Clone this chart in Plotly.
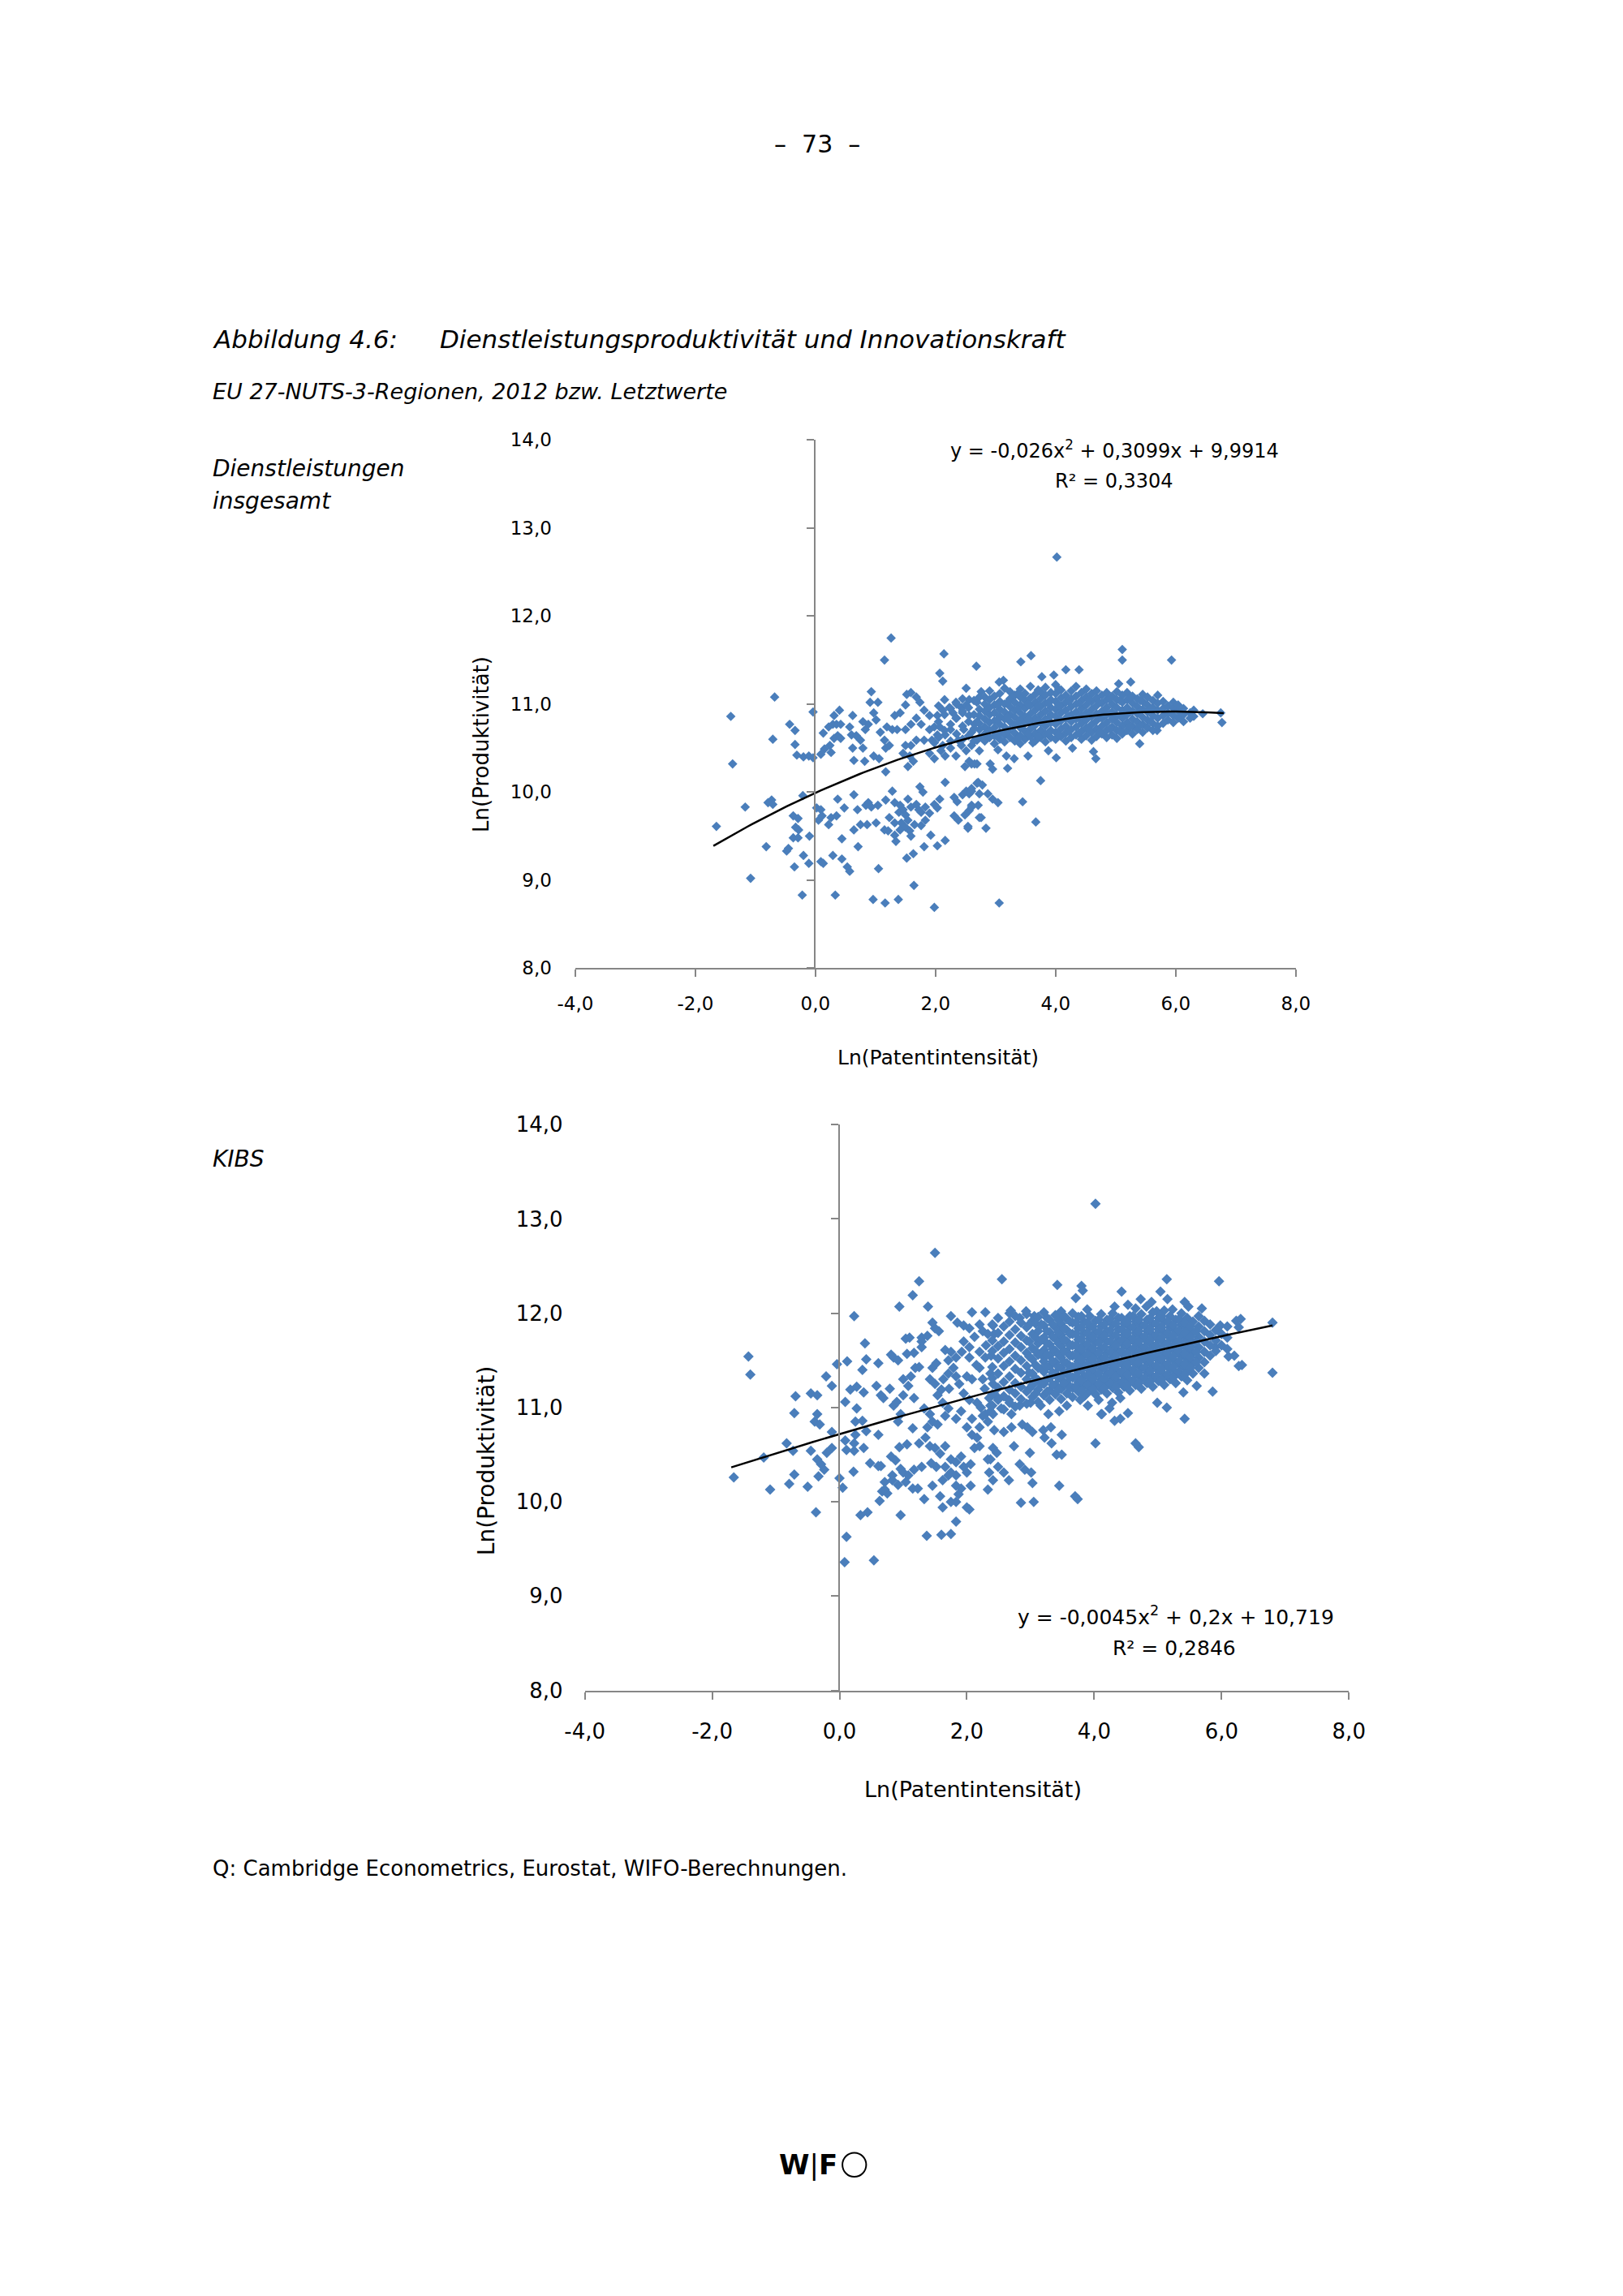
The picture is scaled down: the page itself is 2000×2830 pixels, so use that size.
import numpy as np
import plotly.graph_objects as go

# ---------------- data ----------------
# upper chart: Dienstleistungen insgesamt
top_sparse = [
    (-1.65, 9.61), (-1.41, 10.86), (-1.38, 10.32), (-1.17, 9.83), (-1.08, 9.02), (-0.82, 9.38),
    (-0.79, 9.88), (-0.73, 9.91), (-0.71, 9.86), (-0.71, 10.60), (-0.68, 11.08), (-0.48, 9.33),
    (-0.45, 9.36), (-0.43, 10.77), (-0.37, 9.73), (-0.37, 9.48), (-0.35, 9.15), (-0.34, 10.70),
    (-0.34, 10.54), (-0.33, 9.60), (-0.31, 10.42), (-0.29, 9.70), (-0.29, 9.48), (-0.28, 9.57),
    (-0.22, 8.83), (-0.21, 9.96), (-0.20, 10.40), (-0.20, 9.28), (-0.11, 10.41), (-0.11, 9.19),
    (-0.10, 9.50), (-0.04, 10.39), (-0.04, 10.91),
    (0.02, 9.82), (0.05, 9.68), (0.09, 9.80), (0.09, 9.21), (0.11, 9.73), (0.13, 9.19), (0.22, 9.63),
    (0.26, 9.71), (0.29, 9.28), (0.33, 8.83), (0.35, 9.73), (0.37, 9.92), (0.44, 9.24), (0.44, 9.47),
    (0.48, 9.82), (0.53, 9.15), (0.57, 9.10), (0.64, 9.97), (0.64, 9.57), (0.70, 9.80), (0.71, 9.38),
    (0.75, 9.63), (0.84, 9.85), (0.86, 9.63), (0.88, 9.88), (0.93, 9.83), (0.96, 8.78), (1.01, 9.65),
    (1.04, 9.85), (1.05, 9.13), (1.15, 9.57), (1.16, 8.74), (1.17, 9.91), (1.17, 10.23), (1.21, 9.56),
    (1.23, 9.71), (1.28, 10.01), (1.32, 9.88), (1.32, 9.65), (1.32, 9.51), (1.34, 9.44), (1.38, 8.78),
    (1.39, 9.77), (1.41, 9.85), (1.41, 9.57), (1.43, 9.65), (1.46, 9.80), (1.50, 9.74), (1.50, 9.60),
    (1.52, 9.25), (1.54, 9.68), (1.54, 9.92), (1.57, 9.56), (1.59, 9.83), (1.59, 9.50), (1.63, 9.30),
    (1.64, 8.94), (1.65, 9.63), (1.68, 9.86), (1.72, 9.80), (1.74, 10.06), (1.76, 9.77), (1.76, 9.62),
    (1.79, 10.00), (1.81, 9.38), (1.83, 9.83), (1.83, 9.68), (1.90, 9.76), (1.92, 9.51), (1.98, 9.86),
    (1.98, 8.69), (2.03, 9.82), (2.03, 9.39), (2.07, 9.92), (2.16, 9.45), (2.16, 10.11), (2.31, 9.94),
    (2.31, 9.73), (2.36, 9.89), (2.38, 9.68), (2.45, 9.97), (2.49, 9.74), (2.51, 10.01), (2.54, 9.61),
    (2.56, 9.98), (2.56, 9.79), (2.60, 10.04), (2.60, 9.85), (2.69, 10.10), (2.71, 9.85), (2.73, 9.98),
    (2.73, 9.71), (2.60, 10.32), (2.69, 10.32), (2.91, 10.32), (2.95, 10.26), (3.20, 10.27),
    (2.71, 10.11), (2.78, 10.08), (2.60, 10.01), (2.87, 9.98), (2.95, 9.92), (3.04, 9.88), (2.60, 9.83),
    (2.76, 9.71), (2.84, 9.59), (2.54, 9.59), (3.45, 9.89), (3.67, 9.66), (3.75, 10.13), (3.06, 8.74),
    (3.04, 10.48), (3.18, 10.41), (3.31, 10.38), (3.54, 10.41), (3.62, 10.56), (3.88, 10.47),
    (4.01, 10.39), (4.28, 10.50), (4.63, 10.46), (4.67, 10.38), (5.40, 10.55), (5.69, 10.70),
]
top_high = [
    (1.26, 11.75), (1.15, 11.50), (2.14, 11.57), (2.68, 11.43), (2.07, 11.35), (2.12, 11.26),
    (2.51, 11.18), (4.02, 12.67), (5.11, 11.62), (5.11, 11.50), (5.93, 11.50), (3.59, 11.55),
    (3.42, 11.48), (4.17, 11.39), (4.39, 11.39), (3.77, 11.31), (3.97, 11.33), (3.06, 11.25),
    (3.13, 11.27), (5.25, 11.25), (5.05, 11.23), (6.77, 10.79), (6.75, 10.90), (6.24, 10.90),
    (6.24, 10.84), (6.08, 10.85),
]
top_band = [
    (0.13, 10.67), (0.22, 10.74), (0.29, 10.77), (0.35, 10.77), (0.42, 10.77), (0.40, 10.93),
    (0.31, 10.87), (0.37, 10.64), (0.31, 10.61), (0.42, 10.61), (0.24, 10.53), (0.15, 10.49),
    (0.09, 10.43), (0.26, 10.45), (0.62, 10.87), (0.57, 10.74), (0.60, 10.65), (0.68, 10.64),
    (0.62, 10.50), (0.64, 10.36), (0.82, 10.35), (0.79, 10.50), (0.75, 10.59), (0.83, 10.71),
    (0.88, 10.77), (0.79, 10.80), (0.93, 11.14), (0.91, 11.02), (1.04, 11.02), (0.97, 10.90),
    (1.01, 10.82), (0.97, 10.41), (1.06, 10.38), (1.17, 10.50), (1.23, 10.53), (1.15, 10.59),
    (1.08, 10.68), (1.19, 10.74), (1.28, 10.71), (1.36, 10.71), (1.32, 10.87), (1.41, 10.90),
    (1.50, 10.99), (1.52, 11.11), (1.59, 11.13), (1.68, 11.08), (1.74, 11.02), (1.81, 10.93),
    (1.90, 10.87), (1.50, 10.71), (1.59, 10.77), (1.68, 10.84), (1.76, 10.77), (1.90, 10.71),
    (1.98, 10.74), (2.03, 10.65), (1.94, 10.59), (1.81, 10.59), (1.68, 10.59), (1.59, 10.53),
    (1.50, 10.53), (1.46, 10.44), (1.57, 10.41), (1.63, 10.35), (1.54, 10.29),
    (1.90, 10.44), (1.98, 10.38), (2.09, 10.47), (2.16, 10.41), (2.25, 10.50), (2.34, 10.41),
    (2.43, 10.53), (2.51, 10.47), (2.60, 10.53), (2.69, 10.59), (2.73, 10.71), (2.65, 10.77),
    (2.56, 10.87), (2.45, 10.90), (2.34, 11.02), (2.23, 10.96), (2.12, 10.93), (2.03, 10.87),
    (2.34, 10.84), (2.47, 10.71), (2.60, 10.68), (2.25, 10.71), (2.16, 10.65), (2.43, 10.96),
    (2.56, 11.05), (2.69, 11.02), (2.73, 10.87), (2.56, 10.35), (2.49, 10.29), (2.65, 10.32),
    (2.07, 10.74), (2.38, 10.59), (2.12, 10.53), (2.73, 10.47), (1.98, 10.56), (2.76, 11.14),
    (2.51, 10.99), (2.29, 10.90), (2.69, 10.80),
]
# dense cloud: x position with the y values stacked there
top_core = [
    (2.05, [10.62, 10.80, 10.98]),
    (2.15, [10.70, 10.88, 11.05]),
    (2.25, [10.58, 10.77, 10.95]),
    (2.35, [10.66, 10.84, 11.00]),
    (2.45, [10.60, 10.75, 10.92, 11.06]),
    (2.55, [10.64, 10.80, 10.96]),
    (2.64, [10.58, 10.72, 10.88, 11.04]),
    (2.73, [10.62, 10.78, 10.94, 11.08]),
    (2.82, [10.58, 10.66, 10.74, 10.83, 10.92, 11.00, 11.08]),
    (2.90, [10.62, 10.70, 10.79, 10.88, 10.96, 11.05, 11.15]),
    (2.98, [10.55, 10.64, 10.73, 10.81, 10.90, 10.99, 11.09]),
    (3.07, [10.60, 10.68, 10.77, 10.86, 10.94, 11.03, 11.12]),
    (3.15, [10.57, 10.65, 10.74, 10.83, 10.91, 11.00, 11.18]),
    (3.24, [10.62, 10.71, 10.80, 10.88, 10.97, 11.06, 11.14]),
    (3.32, [10.58, 10.67, 10.76, 10.85, 10.93, 11.02, 11.10]),
    (3.41, [10.55, 10.64, 10.73, 10.82, 10.90, 10.99, 11.08, 11.17]),
    (3.49, [10.60, 10.69, 10.78, 10.86, 10.95, 11.04, 11.12]),
    (3.58, [10.63, 10.72, 10.81, 10.89, 10.98, 11.07, 11.20]),
    (3.66, [10.58, 10.67, 10.76, 10.84, 10.93, 11.02, 11.11]),
    (3.75, [10.62, 10.70, 10.79, 10.88, 10.97, 11.06, 11.14]),
    (3.83, [10.57, 10.66, 10.75, 10.83, 10.92, 11.01, 11.10, 11.19]),
    (3.92, [10.62, 10.70, 10.79, 10.88, 10.96, 11.05, 11.13]),
    (4.00, [10.60, 10.68, 10.77, 10.86, 10.94, 11.03, 11.12, 11.22]),
    (4.09, [10.63, 10.72, 10.81, 10.90, 10.98, 11.07, 11.16]),
    (4.17, [10.58, 10.67, 10.75, 10.84, 10.93, 11.02, 11.10]),
    (4.26, [10.62, 10.71, 10.80, 10.88, 10.97, 11.06, 11.15]),
    (4.34, [10.65, 10.74, 10.83, 10.91, 11.00, 11.09, 11.20]),
    (4.43, [10.60, 10.69, 10.78, 10.87, 10.95, 11.04, 11.13]),
    (4.51, [10.64, 10.73, 10.82, 10.90, 10.99, 11.08, 11.17]),
    (4.60, [10.59, 10.68, 10.77, 10.86, 10.94, 11.03, 11.12]),
    (4.68, [10.63, 10.72, 10.81, 10.89, 10.98, 11.07, 11.15]),
    (4.77, [10.66, 10.75, 10.84, 10.92, 11.01, 11.10]),
    (4.85, [10.62, 10.70, 10.79, 10.88, 10.96, 11.05, 11.13]),
    (4.94, [10.65, 10.74, 10.83, 10.91, 11.00, 11.09]),
    (5.02, [10.61, 10.70, 10.79, 10.87, 10.96, 11.05, 11.14]),
    (5.11, [10.66, 10.75, 10.84, 10.93, 11.02, 11.10]),
    (5.19, [10.70, 10.79, 10.88, 10.96, 11.05, 11.13]),
    (5.28, [10.66, 10.75, 10.83, 10.92, 11.01, 11.09]),
    (5.36, [10.71, 10.80, 10.89, 10.97, 11.06]),
    (5.45, [10.68, 10.77, 10.85, 10.94, 11.03, 11.11]),
    (5.53, [10.73, 10.82, 10.91, 10.99, 11.08]),
    (5.62, [10.70, 10.78, 10.87, 10.96, 11.04]),
    (5.70, [10.75, 10.84, 10.93, 11.01, 11.10]),
    (5.79, [10.78, 10.87, 10.95, 11.03]),
    (5.87, [10.82, 10.90, 10.98]),
    (5.96, [10.79, 10.87, 10.95, 11.02]),
    (6.04, [10.84, 10.92, 10.99]),
    (6.13, [10.80, 10.88, 10.95]),
    (6.30, [10.86, 10.93]),
    (6.45, [10.89]),
]
top_fill = [
    (3.03, [10.64, 10.82, 10.99]), (3.20, [10.69, 10.85, 11.02]),
    (3.37, [10.61, 10.78, 10.95, 11.12]), (3.54, [10.66, 10.83, 11.00]),
    (3.71, [10.63, 10.81, 10.98, 11.16]), (3.88, [10.67, 10.84, 11.01]),
    (4.05, [10.65, 10.82, 10.99, 11.17]), (4.22, [10.69, 10.86, 11.03]),
    (4.39, [10.67, 10.84, 11.01]), (4.56, [10.71, 10.88, 11.05]),
    (4.73, [10.68, 10.85, 11.02]), (4.90, [10.72, 10.89, 11.06]),
    (5.07, [10.70, 10.87, 11.04]), (5.24, [10.74, 10.91, 11.07]),
    (5.41, [10.76, 10.92, 11.04]), (5.58, [10.80, 10.95]),
]
top_fit = [-0.026, 0.3099, 9.9914]
top_fit_span = [-1.7, 6.8]

# lower chart: KIBS
kibs_sparse = [
    (1.50, 12.64), (1.25, 12.34), (1.15, 12.19), (0.94, 12.07), (1.39, 12.07), (0.23, 11.97),
    (1.75, 11.97), (-1.43, 11.54), (-1.40, 11.35), (0.40, 11.68), (-0.04, 11.46), (0.12, 11.49),
    (-0.21, 11.33), (-0.12, 11.23), (-0.69, 11.12), (-0.45, 11.15), (-0.35, 11.13), (-0.71, 10.94),
    (-0.35, 10.93), (-0.39, 10.85), (-0.31, 10.82), (-0.83, 10.62), (-0.73, 10.54), (-0.45, 10.54),
    (-1.19, 10.47), (-1.66, 10.26), (-1.09, 10.13), (-0.79, 10.19), (-0.71, 10.29), (-0.50, 10.16),
    (-0.37, 9.89), (-0.35, 10.45), (-0.29, 10.40), (-0.24, 10.34), (-0.33, 10.27), (-0.20, 10.52),
    (-0.12, 10.57), (-0.12, 10.74), (0.00, 10.25), (0.05, 10.15), (0.11, 9.63), (0.08, 9.36),
    (0.54, 9.38), (0.33, 9.86), (0.44, 9.89), (0.22, 10.32), (0.09, 10.65), (0.23, 10.62),
    (0.25, 10.71), (0.38, 10.57), (0.11, 10.55), (0.23, 10.54), (0.09, 11.06), (0.17, 11.19),
    (0.27, 10.99), (0.25, 10.85), (0.36, 10.86), (0.42, 10.75), (0.61, 10.71), (0.27, 11.22),
    (0.38, 11.16), (0.36, 11.40), (0.42, 11.51), (0.61, 11.47), (0.65, 11.13), (0.69, 11.10),
    (0.58, 11.23), (0.79, 11.20), (0.48, 10.41), (0.61, 10.38), (0.65, 10.38), (0.81, 10.48),
    (0.88, 10.44), (0.83, 10.28), (0.96, 10.35), (0.71, 10.21), (0.67, 10.11), (0.63, 10.01),
    (0.75, 10.09), (0.96, 9.86), (0.94, 10.58), (1.06, 10.61), (1.15, 10.78), (0.92, 10.85),
    (0.96, 10.93), (0.85, 11.02), (0.90, 11.06), (1.00, 11.13), (1.17, 11.10), (1.08, 11.23),
    (1.00, 11.30), (1.12, 11.33), (1.19, 11.42), (1.25, 11.43), (1.06, 11.57), (1.17, 11.58),
    (1.04, 11.73), (1.10, 11.74), (1.29, 11.74), (1.29, 11.64), (0.81, 11.56), (0.85, 11.53),
    (0.92, 11.50), (1.00, 10.31), (1.08, 10.28), (1.17, 10.34), (1.04, 10.21), (1.15, 10.14),
    (1.23, 10.14), (1.33, 10.03), (1.29, 10.37), (0.71, 10.13), (0.83, 10.23), (0.92, 10.18),
    (1.25, 10.62), (1.35, 10.68), (1.42, 10.59), (1.38, 10.79), (1.46, 10.85), (1.54, 10.82),
    (1.42, 10.93), (1.33, 10.99), (1.42, 11.30), (1.50, 11.25), (1.60, 11.19), (1.54, 11.13),
    (1.63, 11.30), (1.71, 11.36), (1.46, 11.42), (1.52, 11.47), (1.50, 11.84), (1.56, 11.81),
    (1.46, 11.90), (1.29, 11.70), (1.38, 11.76), (1.66, 11.61), (1.75, 11.59), (1.83, 11.53),
    (1.71, 11.50), (1.79, 11.42), (1.83, 11.33), (1.85, 11.90), (1.95, 11.87), (2.04, 11.84),
    (2.08, 12.01), (2.29, 12.01), (2.25, 11.81), (2.33, 11.78), (2.41, 11.87), (2.43, 11.78),
    (1.95, 11.70), (2.04, 11.64), (2.20, 11.59), (2.29, 11.53), (2.04, 11.53), (1.92, 11.59),
    (2.20, 11.42), (2.37, 11.36), (2.08, 11.30), (2.00, 11.33), (2.25, 11.30), (2.41, 11.25),
    (1.62, 11.05), (1.71, 10.99), (1.66, 10.91), (1.83, 10.88), (1.91, 10.96), (2.04, 11.08),
    (2.16, 11.05), (2.29, 10.93), (2.37, 11.02), (2.08, 10.88), (2.20, 10.79), (2.00, 10.79),
    (2.08, 10.71), (2.16, 10.68), (1.50, 10.57), (1.58, 10.51), (1.66, 10.59), (1.75, 10.45),
    (1.83, 10.42), (1.91, 10.48), (1.75, 10.31), (1.83, 10.28), (1.95, 10.37), (2.06, 10.40),
    (2.12, 10.57), (2.20, 10.59), (1.44, 10.41), (1.52, 10.37), (1.66, 10.37), (1.71, 10.28),
    (1.62, 10.23), (1.83, 10.17), (1.91, 10.14), (2.00, 10.31), (1.46, 10.17), (1.58, 10.06),
    (1.62, 9.94), (1.75, 10.00), (1.83, 10.00), (1.87, 10.08), (2.00, 9.94), (2.04, 9.92),
    (1.37, 9.64), (1.60, 9.65), (1.75, 9.66), (1.83, 9.79), (2.06, 10.17), (2.33, 10.13),
    (2.35, 10.31), (2.37, 10.45), (2.41, 10.57), (2.43, 10.76), (2.33, 10.85), (2.25, 10.91),
    (2.41, 10.93), (2.12, 11.75), (2.20, 11.88), (2.30, 11.66), (2.38, 11.55), (2.15, 11.45),
    (2.28, 11.20), (2.35, 11.10), (2.22, 11.00), (1.95, 11.15), (1.88, 11.25), (1.72, 11.20),
]
kibs_right = [
    (4.02, 13.16), (2.55, 12.36), (3.42, 12.30), (3.80, 12.29), (3.82, 12.24), (5.14, 12.36),
    (5.96, 12.34), (4.43, 12.23), (3.71, 12.16), (4.73, 12.15), (5.04, 12.23), (5.15, 12.15),
    (4.90, 12.12), (5.42, 12.12), (2.69, 12.03), (2.93, 12.02), (3.06, 11.97), (2.83, 11.95),
    (3.89, 12.04), (4.32, 12.07), (4.53, 12.09), (4.65, 12.05), (4.82, 12.07), (4.98, 12.02),
    (5.23, 12.04), (5.48, 12.07), (5.69, 12.05), (6.23, 11.92), (6.27, 11.85), (5.98, 11.87),
    (5.90, 11.64), (6.11, 11.54), (6.27, 11.44), (5.73, 11.36), (5.61, 11.23), (5.86, 11.17),
    (5.40, 11.16), (4.99, 11.05), (5.14, 11.00), (5.42, 10.88), (4.53, 10.94), (4.12, 10.93),
    (4.32, 10.86), (4.41, 10.88), (4.02, 10.62), (4.65, 10.62), (4.70, 10.58), (3.45, 10.17),
    (3.70, 10.06), (3.74, 10.03), (2.85, 9.99), (3.05, 10.00), (2.47, 10.52), (2.74, 10.59),
    (2.99, 10.52), (3.33, 10.62), (3.41, 10.50), (3.49, 10.50), (3.22, 10.68), (2.33, 10.45),
    (2.49, 10.37), (2.58, 10.31), (2.41, 10.23), (2.66, 10.23), (2.83, 10.40), (2.91, 10.34),
    (3.01, 10.31), (3.03, 10.20), (2.58, 10.74), (2.70, 10.79), (2.87, 10.82), (2.95, 10.79),
    (3.03, 10.74), (3.20, 10.76), (3.32, 10.79), (3.49, 10.71), (3.28, 10.93), (3.45, 10.96),
    (3.57, 11.02), (2.37, 10.96), (2.54, 10.99), (2.70, 10.93), (2.83, 11.02), (3.00, 11.05),
    (3.16, 11.02), (2.45, 11.13), (2.66, 11.08), (3.78, 11.08), (3.90, 11.02), (4.07, 11.08),
    (4.28, 11.05), (4.41, 11.10), (4.11, 10.93), (4.24, 10.99), (3.86, 11.13), (6.80, 11.90),
    (6.80, 11.37), (6.30, 11.94), (6.32, 11.45), (6.20, 11.55),
]
kibs_core = [
    (2.40, [11.02, 11.14, 11.31, 11.43, 11.60, 11.71, 11.88]),
    (2.49, [11.08, 11.21, 11.36, 11.52, 11.65, 11.79, 11.95]),
    (2.58, [10.98, 11.12, 11.27, 11.44, 11.58, 11.70, 11.86]),
    (2.67, [11.05, 11.19, 11.33, 11.49, 11.62, 11.77, 11.91, 12.00]),
    (2.76, [11.01, 11.15, 11.26, 11.41, 11.55, 11.69, 11.83, 11.97]),
    (2.85, [11.09, 11.22, 11.37, 11.50, 11.64, 11.76, 11.90]),
    (2.94, [11.04, 11.17, 11.30, 11.44, 11.58, 11.71, 11.85, 11.99]),
    (3.03, [11.11, 11.24, 11.36, 11.51, 11.63, 11.78, 11.92]),
    (3.12, [11.06, 11.19, 11.29, 11.42, 11.56, 11.68, 11.81, 11.96]),
    (3.21, [11.13, 11.25, 11.38, 11.49, 11.61, 11.74, 11.87, 12.01]),
    (3.30, [11.08, 11.18, 11.31, 11.44, 11.55, 11.67, 11.80, 11.93]),
    (3.39, [11.14, 11.24, 11.36, 11.48, 11.60, 11.73, 11.85, 11.98]),
    (3.48, [11.09, 11.20, 11.30, 11.42, 11.53, 11.65, 11.77, 11.89, 12.02]),
    (3.57, [11.15, 11.26, 11.37, 11.47, 11.59, 11.70, 11.82, 11.94]),
    (3.66, [11.11, 11.21, 11.32, 11.43, 11.55, 11.66, 11.78, 11.90, 12.00]),
    (3.75, [11.17, 11.27, 11.38, 11.49, 11.60, 11.72, 11.84, 11.96]),
    (3.84, [11.12, 11.23, 11.33, 11.45, 11.56, 11.67, 11.79, 11.91]),
    (3.93, [11.18, 11.28, 11.39, 11.50, 11.61, 11.73, 11.85, 11.97]),
    (4.02, [11.14, 11.24, 11.35, 11.46, 11.57, 11.69, 11.80, 11.92]),
    (4.11, [11.19, 11.30, 11.41, 11.52, 11.63, 11.74, 11.86, 11.99]),
    (4.20, [11.15, 11.26, 11.36, 11.47, 11.58, 11.70, 11.81, 11.93]),
    (4.29, [11.21, 11.31, 11.42, 11.53, 11.64, 11.76, 11.88, 12.00]),
    (4.38, [11.16, 11.27, 11.38, 11.49, 11.60, 11.71, 11.83, 11.95]),
    (4.47, [11.22, 11.33, 11.44, 11.55, 11.66, 11.77, 11.89]),
    (4.56, [11.18, 11.29, 11.40, 11.51, 11.62, 11.73, 11.85, 11.97]),
    (4.65, [11.24, 11.35, 11.46, 11.57, 11.68, 11.79, 11.91]),
    (4.74, [11.20, 11.31, 11.42, 11.53, 11.64, 11.75, 11.87, 11.99]),
    (4.83, [11.26, 11.37, 11.48, 11.59, 11.70, 11.81, 11.93]),
    (4.92, [11.22, 11.33, 11.44, 11.55, 11.66, 11.77, 11.89, 12.01]),
    (5.01, [11.28, 11.39, 11.50, 11.61, 11.72, 11.83, 11.95]),
    (5.10, [11.24, 11.35, 11.46, 11.57, 11.68, 11.79, 11.91, 12.03]),
    (5.19, [11.30, 11.41, 11.52, 11.63, 11.74, 11.85, 11.97]),
    (5.28, [11.26, 11.37, 11.48, 11.59, 11.70, 11.81, 11.93]),
    (5.37, [11.33, 11.44, 11.55, 11.66, 11.77, 11.88, 12.00]),
    (5.46, [11.29, 11.40, 11.51, 11.62, 11.73, 11.84, 11.95]),
    (5.55, [11.36, 11.47, 11.58, 11.69, 11.80, 11.91]),
    (5.64, [11.42, 11.53, 11.64, 11.75, 11.86, 11.97]),
    (5.73, [11.48, 11.59, 11.70, 11.81, 11.92]),
    (5.82, [11.55, 11.66, 11.77, 11.88]),
    (5.91, [11.60, 11.71, 11.82]),
    (6.00, [11.66, 11.78]),
    (6.09, [11.62, 11.74, 11.86]),
]
kibs_fill = [
    (2.98, [11.20, 11.37, 11.54, 11.70, 11.88]),
    (3.08, [11.15, 11.31, 11.45, 11.60, 11.74, 11.89]),
    (3.17, [11.25, 11.41, 11.56, 11.72, 11.88]),
    (3.26, [11.17, 11.30, 11.43, 11.56, 11.68, 11.81, 11.95]),
    (3.35, [11.24, 11.37, 11.49, 11.62, 11.75, 11.88]),
    (3.44, [11.19, 11.31, 11.43, 11.56, 11.68, 11.80, 11.93]),
    (3.53, [11.25, 11.36, 11.48, 11.60, 11.72, 11.84, 11.97]),
    (3.62, [11.21, 11.32, 11.44, 11.55, 11.66, 11.78, 11.91]),
    (3.71, [11.22, 11.33, 11.44, 11.55, 11.66, 11.78, 11.90]),
    (3.80, [11.18, 11.29, 11.40, 11.51, 11.62, 11.73, 11.85, 11.97]),
    (3.89, [11.24, 11.34, 11.45, 11.56, 11.67, 11.79, 11.90]),
    (3.98, [11.20, 11.30, 11.41, 11.52, 11.63, 11.75, 11.86]),
    (4.07, [11.25, 11.36, 11.47, 11.58, 11.69, 11.80, 11.93]),
    (4.16, [11.21, 11.31, 11.42, 11.53, 11.64, 11.76, 11.88]),
    (4.25, [11.26, 11.37, 11.48, 11.59, 11.70, 11.82, 11.94]),
    (4.34, [11.22, 11.33, 11.44, 11.55, 11.66, 11.77, 11.89]),
    (4.43, [11.27, 11.38, 11.49, 11.60, 11.71, 11.83, 11.95]),
    (4.52, [11.24, 11.35, 11.46, 11.57, 11.68, 11.79, 11.91]),
    (4.61, [11.29, 11.40, 11.51, 11.62, 11.73, 11.85, 11.97]),
    (4.70, [11.26, 11.37, 11.48, 11.59, 11.70, 11.81, 11.93]),
    (4.79, [11.31, 11.42, 11.53, 11.64, 11.75, 11.87]),
    (4.88, [11.28, 11.39, 11.50, 11.61, 11.72, 11.83, 11.95]),
    (4.97, [11.33, 11.44, 11.55, 11.66, 11.77, 11.89]),
    (5.06, [11.30, 11.41, 11.52, 11.63, 11.74, 11.85, 11.97]),
    (5.15, [11.35, 11.46, 11.57, 11.68, 11.79, 11.91]),
    (5.24, [11.32, 11.43, 11.54, 11.65, 11.76, 11.87]),
    (5.33, [11.38, 11.49, 11.60, 11.71, 11.82, 11.94]),
    (5.42, [11.35, 11.46, 11.57, 11.68, 11.79, 11.90]),
    (5.51, [11.42, 11.53, 11.64, 11.75, 11.86]),
    (5.60, [11.48, 11.59, 11.70, 11.81]),
]
kibs_fit = [-0.0045, 0.2, 10.719]
kibs_fit_span = [-1.7, 6.8]

x_ticks = [-4, -2, 0, 2, 4, 6, 8]
x_labels = ["-4,0", "-2,0", "0,0", "2,0", "4,0", "6,0", "8,0"]
y_ticks = [8, 9, 10, 11, 12, 13, 14]
y_labels = ["8,0", "9,0", "10,0", "11,0", "12,0", "13,0", "14,0"]

BLUE = "#4a7ebb"
GREY = "#868686"
FONT = "DejaVu Sans"
# the page body keeps the browser's 8 px margin; the figure is kept a bit smaller
# than the window so that no scroll bars appear
OFF = 8
W, H = 1980, 2790


def px(x):
    return (x - OFF) / W


def py(y):
    return 1 - (y - OFF) / H


def unpack(pairs, cols):
    xs = [p[0] for p in pairs]
    ys = [p[1] for p in pairs]
    for group in cols:
        for cx, cys in group:
            xs += [cx] * len(cys)
            ys += cys
    return xs, ys


fig = go.Figure()

panels = [
    # points, cores, fit, span, xaxis, yaxis, zero-axis, marker size
    (top_sparse + top_high + top_band, [top_core, top_fill], top_fit, top_fit_span, "x", "y", "y3", 9),
    (kibs_sparse + kibs_right, [kibs_core, kibs_fill], kibs_fit, kibs_fit_span, "x2", "y2", "y4", 10),
]
for pts, cores, fit, span, xa, ya, za, ms in panels:
    xs, ys = unpack(pts, cores)
    fig.add_trace(go.Scatter(x=xs, y=ys, mode="markers", xaxis=xa, yaxis=ya,
                             marker=dict(symbol="diamond", size=ms, color=BLUE, line=dict(width=0))))
    fx = np.linspace(span[0], span[1], 120)
    fig.add_trace(go.Scatter(x=fx, y=np.polyval(fit, fx), mode="lines", xaxis=xa, yaxis=za,
                             line=dict(color="black", width=2.5)))

# plot areas in page pixels: left, right, top, bottom, x of zero line, tick font, label gaps
boxes = [(700, 1609, 533, 1191, 1002, 23, 13, 28), (712, 1676, 1386, 2091, 1033, 26, 17, 26)]
axis_names = [("xaxis", "yaxis", "yaxis3", "x", "y"), ("xaxis2", "yaxis2", "yaxis4", "x2", "y2")]
layout_axes = {}
for (l, r, t, b, z, fs, xgap, ygap), (xn, yn, zn, xr, yr) in zip(boxes, axis_names):
    layout_axes[xn] = dict(domain=[px(l), px(r)], range=[-4, 8], anchor=yr,
                           tickvals=x_ticks, ticktext=x_labels, showline=True, linecolor=GREY,
                           linewidth=2, ticks="outside", ticklen=9, tickwidth=2, tickcolor=GREY,
                           showgrid=False, zeroline=False, ticklabelstandoff=xgap,
                           tickfont=dict(family=FONT, size=fs, color="black"))
    layout_axes[yn] = dict(domain=[py(b), py(t)], range=[8, 14], anchor=xr,
                           tickvals=y_ticks, ticktext=y_labels, showline=False, ticks="",
                           showgrid=False, zeroline=False, ticklabelstandoff=ygap,
                           tickfont=dict(family=FONT, size=fs, color="black"))
    layout_axes[zn] = dict(overlaying=yr, anchor="free", position=px(z), side="left",
                           range=[8, 14], tickvals=y_ticks, showticklabels=False,
                           showline=True, linecolor=GREY, linewidth=2, ticks="outside",
                           ticklen=9, tickwidth=2, tickcolor=GREY, showgrid=False, zeroline=False)


def note(text, x, y, size, xanchor="left", angle=0, color="black"):
    return dict(text=text, x=px(x), y=py(y), xref="paper", yref="paper", showarrow=False,
                xanchor=xanchor, yanchor="middle", textangle=angle,
                font=dict(family=FONT, size=size, color=color))


annotations = [
    note("–\u00a0\u00a073\u00a0\u00a0–", 1005, 164, 30, "center"),
    note("<i>Abbildung 4.6:</i>", 240, 407, 31),
    note("<i>Dienstleistungsproduktivität und Innovationskraft</i>", 527, 407, 31),
    note("<i>EU 27-NUTS-3-Regionen, 2012 bzw. Letztwerte</i>", 240, 473, 27),
    note("<i>Dienstleistungen</i>", 240, 569, 28),
    note("<i>insgesamt</i>", 240, 609, 28),
    note("<i>KIBS</i>", 240, 1429, 28),
    note("Ln(Produktivität)", 582, 912, 26, "center", -90),
    note("Ln(Patentintensität)", 1158, 1302, 25, "center"),
    note("y = -0,026x<sup>2</sup> + 0,3099x + 9,9914", 1380, 545, 24, "center"),
    note("R² = 0,3304", 1380, 584, 24, "center"),
    note("Ln(Produktivität)", 588, 1805, 28, "center", -90),
    note("Ln(Patentintensität)", 1202, 2214, 27, "center"),
    note("y = -0,0045x<sup>2</sup> + 0,2x + 10,719", 1458, 1998, 25, "center"),
    note("R² = 0,2846", 1456, 2038, 25, "center"),
    note("Q: Cambridge Econometrics, Eurostat, WIFO-Berechnungen.", 240, 2313, 26),
    note("<b>W</b>|<b>F</b>", 1033, 2682, 34, "right"),
]

fig.update_layout(
    width=W, height=H, margin=dict(l=0, r=0, t=0, b=0),
    paper_bgcolor="white", plot_bgcolor="white", showlegend=False,
    annotations=annotations,
    shapes=[dict(type="circle", xref="paper", yref="paper",
                 x0=px(1037), x1=px(1067), y0=py(2697), y1=py(2667),
                 line=dict(color="black", width=2))],
    **layout_axes,
)

fig.write_html("out.html", config={"displayModeBar": False})
